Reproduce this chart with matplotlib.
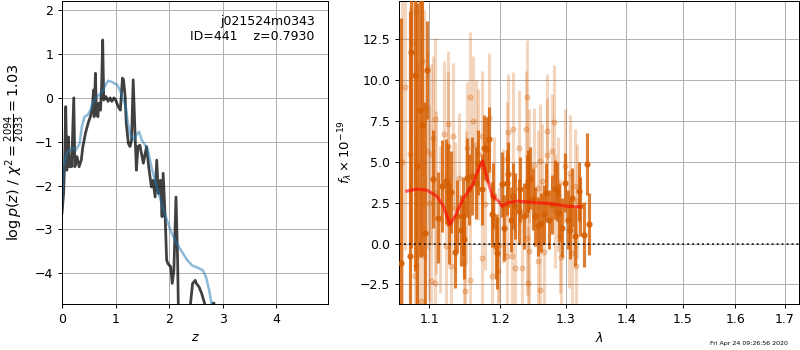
import numpy as np
import matplotlib
matplotlib.use("Agg")
import matplotlib.pyplot as plt
from matplotlib.ticker import NullLocator, FixedLocator, FormatStrFormatter

# p(z) panel
z_fit = [0.0, 0.03, 0.05, 0.07, 0.09, 0.12, 0.14, 0.17, 0.18, 0.22, 0.24, 0.28,
         0.32, 0.36, 0.39, 0.44, 0.49, 0.53, 0.57, 0.59, 0.60, 0.625, 0.64, 0.67,
         0.69, 0.72, 0.74, 0.76, 0.78, 0.82, 0.86, 0.90, 0.93, 0.97, 1.00, 1.05,
         1.09, 1.13, 1.15, 1.18, 1.20, 1.24, 1.27, 1.30, 1.33, 1.36, 1.39, 1.42,
         1.455, 1.52, 1.58, 1.62, 1.67, 1.70, 1.74, 1.77, 1.80, 1.84, 1.87, 1.89,
         1.93, 1.955, 1.98, 2.03, 2.06, 2.09, 2.13, 2.16, 2.19, 2.38, 2.40, 2.44,
         2.49, 2.51, 2.56, 2.61, 2.68, 2.76, 2.78, 2.82, 2.84, 2.86, 2.88, 3.2, 4.97]
logpz = [-2.63, -2.17, -1.42, -0.2, -1.65, -0.89, -1.57, -1.42, -1.57, 0.0, -1.57, -1.34,
         -1.57, -1.42, -1.11, -0.80, -0.57, -0.43, -0.2, 0.18, -0.43, 0.56, -0.2, -0.43,
         -0.12, -0.28, 0.26, 1.32, -0.05, 0.03, -0.08, 0.0, -0.08, 0.0, -0.04, -0.2,
         -0.28, 0.45, 0.41, 0.03, -0.57, -1.04, -1.11, -0.96, 0.41, -0.65, -1.65, -1.11,
         -1.08, -1.49, -1.11, -1.57, -2.03, -1.88, -2.26, -1.42, -2.18, -1.88, -2.71, -1.72,
         -2.79, -3.70, -3.78, -3.85, -4.23, -3.93, -2.26, -3.70, -6.0, -6.0, -4.7, -4.23,
         -4.16, -4.23, -4.31, -4.46, -4.75, -6.0, -6.0, -4.68, -4.68, -6.0, -6.0, -6.0, -6.0]

z_prior = [0.0, 0.03, 0.08, 0.14, 0.20, 0.26, 0.33, 0.37, 0.42, 0.48, 0.53, 0.57,
           0.63, 0.70, 0.77, 0.83, 0.86, 0.92, 0.98, 1.03, 1.08, 1.13, 1.19, 1.23,
           1.28, 1.34, 1.39, 1.44, 1.49, 1.55, 1.60, 1.67, 1.77, 1.86, 1.96, 2.05,
           2.15, 2.24, 2.34, 2.43, 2.53, 2.63, 2.69, 2.75, 2.81, 2.9, 4.97]
logp_prior = [-2.48, -1.57, -1.27, -1.19, -1.15, -1.19, -1.04, -0.66, -0.43, -0.39, -0.28, -0.12,
              0.0, 0.07, 0.18, 0.33, 0.39, 0.37, 0.33, 0.30, 0.18, 0.0, -0.2, -0.57,
              -0.85, -0.96, -0.85, -0.77, -0.96, -1.07, -1.17, -1.57, -2.03, -2.41, -2.79, -3.09,
              -3.32, -3.51, -3.70, -3.82, -3.87, -3.93, -4.08, -4.39, -4.8, -6.0, -6.0]

# spectrum panel: G141 binned
wave_dark = [1.0625, 1.0735, 1.0757, 1.0801, 1.0837, 1.0867, 1.0903, 1.0946, 1.0969,
             1.1054, 1.1117, 1.1170, 1.1226, 1.1246, 1.1271, 1.1298, 1.1344, 1.1371,
             1.1431, 1.1455, 1.1478, 1.1516, 1.1552, 1.1587, 1.1648, 1.1680, 1.1729,
             1.1762, 1.1801, 1.1839, 1.1874, 1.1897, 1.1936, 1.1956, 1.2020, 1.2054,
             1.2095, 1.2118, 1.2154, 1.2192, 1.2218, 1.2268, 1.2293, 1.2343, 1.2395,
             1.2418, 1.2444, 1.2480, 1.2521, 1.2562, 1.2614, 1.2649, 1.2686, 1.2727,
             1.2780, 1.2821, 1.2859, 1.2895, 1.2938, 1.2979, 1.3033, 1.3070, 1.3097,
             1.3150, 1.3203, 1.3231, 1.3285, 1.3340, 1.3367]
flux_dark = [-1.17, -0.74, 11.7, 10.3, 4.74, 8.18, 7.24, 0.65, 10.6,
             3.93, 1.58, 3.52, 3.82, 3.6, 1.27, 3.15, -0.51, 1.68,
             0.8, 1.68, 0.25, 4.03, 3.31, 4.13, 3.72, 4.95, 3.31,
             5.87, 5.77, 6.38, 1.78, 2.9, -0.17, -0.57, 3.62, 0.96,
             3.72, 4.23, 1.47, 2.9, 2.29, 1.98, 3.31, 1.68, 3.52,
             3.82, 4.03, 2.7, 1.68, 1.06, 1.27, 1.78, 3.11, 1.47,
             2.39, 3.31, 3.21, 1.88, 0.96, 3.72, 1.47, 0.86, 2.8,
             0.45, 3.21, 2.29, 0.55, 4.85, 1.17]
err_dark = [15, 15, 12, 12, 10, 9, 8, 8, 3,
            3, 2.8, 2.8, 2.6, 2.5, 2.5, 2.5, 2.2, 2.2,
            2.2, 2.4, 2.4, 2.4, 2.2, 2.4, 2.2, 2.0, 2.2,
            2.0, 2.0, 2.0, 2.0, 2.0, 2.0, 2.2, 2.0, 2.0,
            2.0, 2.0, 2.0, 2.0, 2.0, 2.0, 2.0, 2.0, 1.9,
            1.9, 1.9, 1.9, 1.8, 1.8, 1.8, 1.8, 1.8, 1.8,
            1.8, 1.8, 1.8, 1.8, 1.8, 1.8, 1.8, 1.8, 1.8,
            1.8, 1.8, 1.8, 2.0, 1.9, 1.9]

# spectrum panel: unbinned (faint)
wave_light = [1.0630, 1.0680, 1.0735, 1.0780, 1.0801, 1.0818, 1.0818, 1.0850, 1.0888,
              1.0903, 1.0933, 1.0933, 1.0965, 1.0990, 1.1023, 1.1023, 1.1046, 1.1081,
              1.1081, 1.1090, 1.1140, 1.1202, 1.1226, 1.1248, 1.1257, 1.1293, 1.1317,
              1.1350, 1.1400, 1.1482, 1.1485, 1.1505, 1.1516, 1.1555, 1.1555, 1.1600,
              1.1645, 1.1680, 1.1729, 1.1729, 1.1780, 1.1835, 1.1874, 1.1900, 1.1960,
              1.1985, 1.2040, 1.2095, 1.2095, 1.2108, 1.2170, 1.2178, 1.2218, 1.2268,
              1.2316, 1.2380, 1.2395, 1.2400, 1.2418, 1.2430, 1.2430, 1.2505, 1.2562,
              1.2570, 1.2595, 1.2595, 1.2625, 1.2658, 1.2700, 1.2700, 1.2780, 1.2805,
              1.2821, 1.2870, 1.2907, 1.2924, 1.2987, 1.3045, 1.3070, 1.3097, 1.3150,
              1.3165, 1.3177]
flux_light = [5.0, 9.6, 5.46, 12.3, -2.0, 14.15, -1.39, 3.0, -3.54,
              11.15, 8.32, -0.78, 5.66, 2.5, 5.46, -2.31, 6.48, 7.6,
              -2.41, 3.11, 1.5, 6.69, -0.17, 5.97, 7.3, -1.39, 6.58,
              2.2, 4.0, -1.2, -2.92, 2.9, 5.87, 8.94, -2.2, 7.5,
              6.03, 5.46, 6.58, -0.88, 2.4, 7.67, -2.0, 3.0, -1.7,
              -0.06, 2.3, 5.15, -0.74, 6.85, -0.78, 7.0, -1.49, 5.87,
              -1.49, 7.04, 8.94, 0.35, -2.41, 4.74, -0.47, 4.79, -1.08,
              3.42, 5.05, -2.82, 3.82, -0.53, 6.89, 5.4, 5.66, 7.44,
              2.0, 3.0, 0.45, -0.82, 4.74, 0.75, 4.34, -0.57, 3.52,
              -1.39, 2.6]
err_light = [10, 10, 9, 9, 8, 8, 8, 8, 7,
             7, 6, 6, 6, 6, 5.5, 5.5, 5, 5,
             5, 5, 4.5, 4.5, 4.5, 4.5, 4.5, 4.5, 4.5,
             4, 4, 4, 4, 4, 4, 4, 4, 4,
             4, 4, 4, 4, 4, 4, 4, 3.5, 3.5,
             3.5, 3.5, 3.5, 3.5, 3.5, 3.5, 3.5, 3.5, 3.5,
             3.5, 3.5, 3.5, 3.5, 3.5, 3.5, 3.5, 3.5, 3.5,
             3.5, 3.5, 3.5, 3.5, 3.5, 3.5, 3.5, 3.5, 3.5,
             3.5, 3.5, 3.5, 3.5, 3.5, 3.5, 3.5, 3.5, 3.5,
             3.5, 3.5]

wave_model = [1.070, 1.083, 1.0965, 1.110, 1.119, 1.128, 1.135, 1.146, 1.160, 1.168,
              1.174, 1.181, 1.188, 1.197, 1.202, 1.211, 1.225, 1.253, 1.276, 1.300, 1.322]
flux_model = [3.21, 3.33, 3.27, 2.9, 2.29, 1.17, 1.68, 2.7, 3.62, 4.54,
              5.05, 3.93, 2.9, 2.6, 2.29, 2.5, 2.6, 2.5, 2.45, 2.29, 2.25]

wave_ticks = [1.1, 1.2, 1.3, 1.4, 1.5, 1.6, 1.7]

g141 = (0.8352941176470589, 0.3686274509803922, 0.0)

fig = plt.figure(figsize=(800 / 90, 350 / 90), dpi=90)
ax1 = fig.add_axes([0.0775, 0.1314, 0.3325, 0.866])
ax2 = fig.add_axes([0.499, 0.1314, 0.5, 0.866])

ax1.plot(z_fit, logpz, color="k", alpha=0.75, lw=2.2)
ax1.plot(z_prior, logp_prior, color="tab:blue", alpha=0.5, lw=2)
ax1.set_xlim(0, 4.97)
ax1.set_ylim(-4.7, 2.21)
ax1.grid()
ax1.set_xlabel("$z$")
ax1.set_ylabel(r"$\log p(z)$ / $\chi^2=\frac{2094}{2033}=1.03$", fontsize=11.5,
               labelpad=6)
ax1.text(0.95, 0.955, "j021524m0343\nID=441    z=0.7930",
         ha="right", va="top", transform=ax1.transAxes)

ax2.errorbar(wave_light, flux_light, err_light, color=g141, alpha=0.25,
             marker="o", ms=4, linestyle="None", elinewidth=2.5, zorder=2)
ax2.errorbar(wave_dark, flux_dark, err_dark, color=g141, alpha=0.8,
             marker="o", ms=4, linestyle="None", elinewidth=2.5, zorder=3)
ax2.plot(wave_model, flux_model, color="r", alpha=0.6, lw=2.5, zorder=4)
ax2.axhline(0, color="k", linestyle=":", lw=1.5, alpha=0.8, zorder=5)

ax2.set_xscale("log")
ax2.set_xlim(1.06, 1.73)
ax2.set_ylim(-3.7, 14.85)
ax2.xaxis.set_major_locator(FixedLocator(wave_ticks))
ax2.xaxis.set_major_formatter(FormatStrFormatter("%.1f"))
ax2.xaxis.set_minor_locator(NullLocator())
ax2.grid()
ax2.set_xlabel(r"$\lambda$")
ax2.set_ylabel(r"$f_\lambda \times 10^{-19}$", fontsize=10.5)

fig.text(0.985, 0.01, "Fri Apr 24 09:26:56 2020", ha="right", va="bottom", fontsize=5)

fig.savefig("out.png", dpi=90)
